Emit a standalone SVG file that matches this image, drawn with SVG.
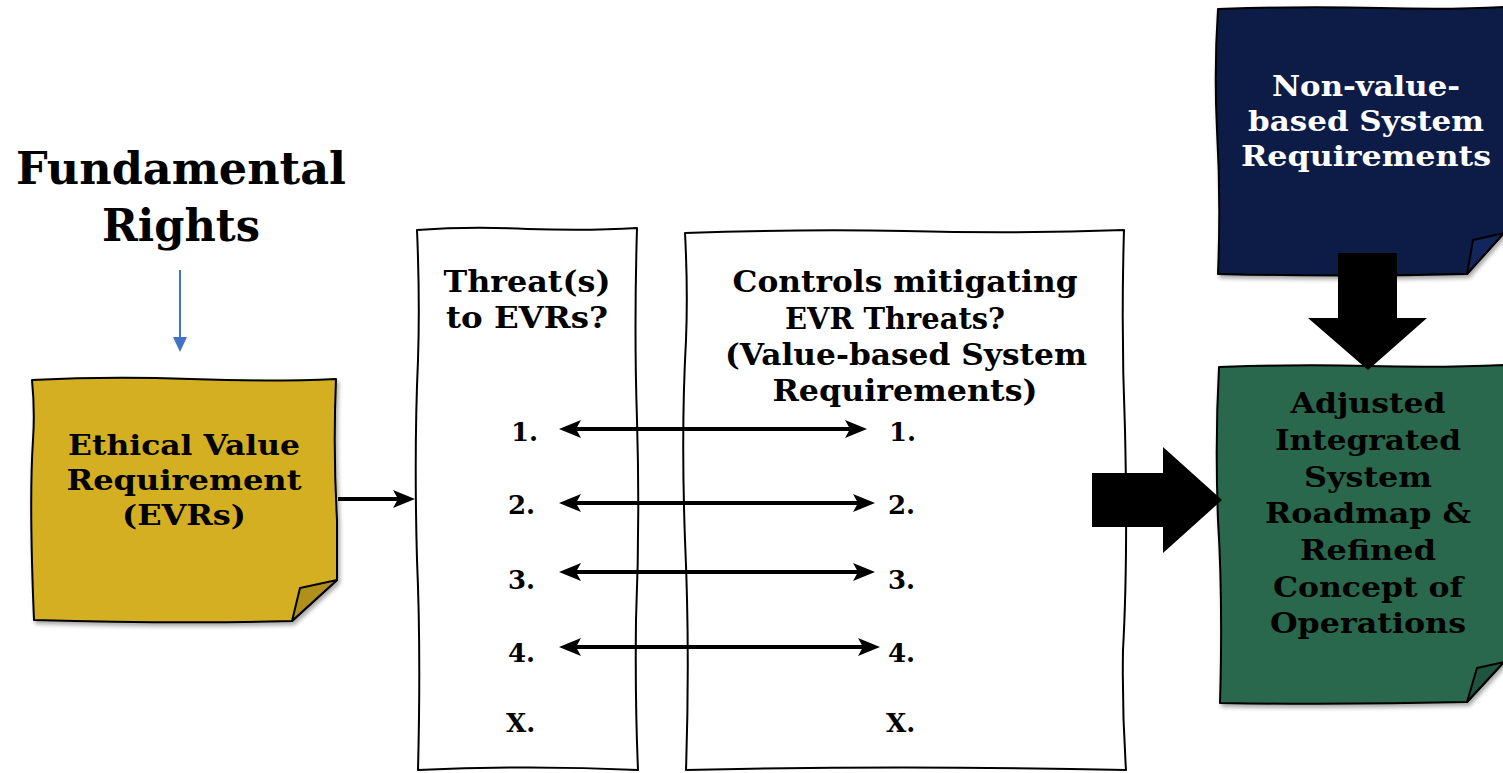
<svg xmlns="http://www.w3.org/2000/svg" width="1503" height="773" viewBox="0 0 1503 773">
<style>
.t{font-family:"DejaVu Serif","Liberation Serif",serif;font-weight:bold;text-anchor:middle;fill:#000}
.w{fill:#fff}
.n{font-family:"DejaVu Serif","Liberation Serif",serif;font-weight:bold;font-size:26px;fill:#000}
.edge{stroke:#000;stroke-width:2;stroke-linejoin:round}
.conn{stroke:#000;stroke-width:4;fill:none}
</style>
<defs>
<filter id="sh" x="-10%" y="-10%" width="125%" height="125%">
<feDropShadow dx="2" dy="3" stdDeviation="2" flood-color="#000" flood-opacity="0.35"/>
</filter>
<marker id="ah" markerUnits="userSpaceOnUse" markerWidth="22" markerHeight="20" viewBox="0 0 22 20" refX="14" refY="10" orient="auto-start-reverse">
<path d="M0,1 L22,10 L0,19 L5,10 Z" fill="#000"/>
</marker>
</defs>

<g id="fundamental-rights">
<text class="t" x="181" y="184" font-size="45" textLength="330" lengthAdjust="spacingAndGlyphs">Fundamental</text>
<text class="t" x="181" y="241" font-size="45" textLength="158" lengthAdjust="spacingAndGlyphs">Rights</text>
</g>

<g id="evr">
<path class="edge" filter="url(#sh)" fill="#D4AF21" d="M32,380 Q110,376 190,379 Q270,382 336,379 Q333,450 337,520 L337,580 L292,621 Q180,624 34,620 Q29,500 33,440 Q35,410 32,380 Z"/>
<path class="edge" fill="#B08F1A" d="M337,580 L300,588 L292,621 Z" stroke-width="1.5"/>
<text class="t" x="184" y="455" font-size="27" textLength="232" lengthAdjust="spacingAndGlyphs">Ethical Value</text>
<text class="t" x="184" y="490" font-size="27" textLength="235" lengthAdjust="spacingAndGlyphs">Requirement</text>
<text class="t" x="184" y="525" font-size="27" textLength="124" lengthAdjust="spacingAndGlyphs">(EVRs)</text>
</g>

<g id="threats">
<path class="edge" fill="#fff" d="M417,230 Q470,226 527,229 Q590,231 637,228 Q634,330 637,420 Q640,520 636,620 Q635,700 638,770 Q530,765 418,770 Q421,650 417,560 Q414,450 418,360 Q420,300 417,230 Z"/>
<text class="t" x="527" y="292" font-size="30" textLength="167" lengthAdjust="spacingAndGlyphs">Threat(s)</text>
<text class="t" x="527" y="328" font-size="30" textLength="162" lengthAdjust="spacingAndGlyphs">to EVRs?</text>
<text class="n" x="511" y="441">1.</text>
<text class="n" x="508" y="514">2.</text>
<text class="n" x="508" y="589">3.</text>
<text class="n" x="508" y="662">4.</text>
<text class="n" x="506" y="732">X.</text>
</g>

<g id="controls">
<path class="edge" fill="#fff" d="M685,233 Q800,229 905,231 Q1020,234 1124,230 Q1121,330 1125,430 Q1128,560 1123,650 Q1122,710 1126,770 Q900,765 686,770 Q690,650 685,540 Q681,430 686,340 Q688,290 685,233 Z"/>
<text class="t" x="905" y="292" font-size="30" textLength="345" lengthAdjust="spacingAndGlyphs">Controls mitigating</text>
<text class="t" x="895" y="329" font-size="30" textLength="220" lengthAdjust="spacingAndGlyphs">EVR Threats?</text>
<text class="t" x="906" y="365" font-size="30" textLength="362" lengthAdjust="spacingAndGlyphs">(Value-based System</text>
<text class="t" x="905" y="401" font-size="30" textLength="265" lengthAdjust="spacingAndGlyphs">Requirements)</text>
<text class="n" x="889" y="441">1.</text>
<text class="n" x="888" y="514">2.</text>
<text class="n" x="888" y="589">3.</text>
<text class="n" x="888" y="662">4.</text>
<text class="n" x="886" y="732">X.</text>
</g>

<g id="non-value">
<path class="edge" filter="url(#sh)" fill="#0B1A47" d="M1218,9 Q1300,6 1380,8 Q1450,10 1504,7 L1504,233 L1467,274 Q1340,277 1218,274 Q1221,200 1217,130 Q1214,70 1218,9 Z"/>
<path class="edge" fill="#13265C" stroke-width="1.5" d="M1504,233 L1473,240 L1467,274 Z"/>
<text class="t w" x="1366" y="96" font-size="27" textLength="188" lengthAdjust="spacingAndGlyphs">Non-value-</text>
<text class="t w" x="1366" y="131" font-size="27" textLength="236" lengthAdjust="spacingAndGlyphs">based System</text>
<text class="t w" x="1366" y="166" font-size="27" textLength="250" lengthAdjust="spacingAndGlyphs">Requirements</text>
</g>

<g id="roadmap">
<path class="edge" filter="url(#sh)" fill="#29684D" d="M1219,367 Q1300,364 1368,366 Q1440,368 1504,365 L1504,662 L1467,702 Q1340,705 1220,703 Q1223,600 1218,520 Q1215,440 1219,367 Z"/>
<path class="edge" fill="#1F5440" stroke-width="1.5" d="M1504,662 L1477,668 L1467,702 Z"/>
<text class="t" x="1368" y="413" font-size="27" textLength="155" lengthAdjust="spacingAndGlyphs">Adjusted</text>
<text class="t" x="1368" y="450" font-size="27" textLength="186" lengthAdjust="spacingAndGlyphs">Integrated</text>
<text class="t" x="1368" y="487" font-size="27" textLength="128" lengthAdjust="spacingAndGlyphs">System</text>
<text class="t" x="1368" y="523" font-size="27" textLength="206" lengthAdjust="spacingAndGlyphs">Roadmap &amp;</text>
<text class="t" x="1368" y="560" font-size="27" textLength="136" lengthAdjust="spacingAndGlyphs">Refined</text>
<text class="t" x="1368" y="597" font-size="27" textLength="190" lengthAdjust="spacingAndGlyphs">Concept of</text>
<text class="t" x="1368" y="633" font-size="27" textLength="196" lengthAdjust="spacingAndGlyphs">Operations</text>
</g>

<g id="connectors">
<line x1="180" y1="270" x2="180" y2="340" stroke="#4472C4" stroke-width="2"/>
<polygon points="173,337 187,337 180,352" fill="#4472C4"/>
<line class="conn" x1="338" y1="499" x2="407" y2="499" marker-end="url(#ah)"/>
<line class="conn" x1="567" y1="429" x2="859" y2="429" marker-start="url(#ah)" marker-end="url(#ah)"/>
<line class="conn" x1="567" y1="503" x2="867" y2="503" marker-start="url(#ah)" marker-end="url(#ah)"/>
<line class="conn" x1="567" y1="572" x2="867" y2="572" marker-start="url(#ah)" marker-end="url(#ah)"/>
<line class="conn" x1="567" y1="647" x2="872" y2="647" marker-start="url(#ah)" marker-end="url(#ah)"/>
<polygon points="1092,473 1163,473 1163,447 1222,500 1163,553 1163,527 1092,527" fill="#000"/>
<polygon points="1338,253 1397,253 1397,318 1427,318 1368,370 1308,318 1338,318" fill="#000"/>
</g>
</svg>
